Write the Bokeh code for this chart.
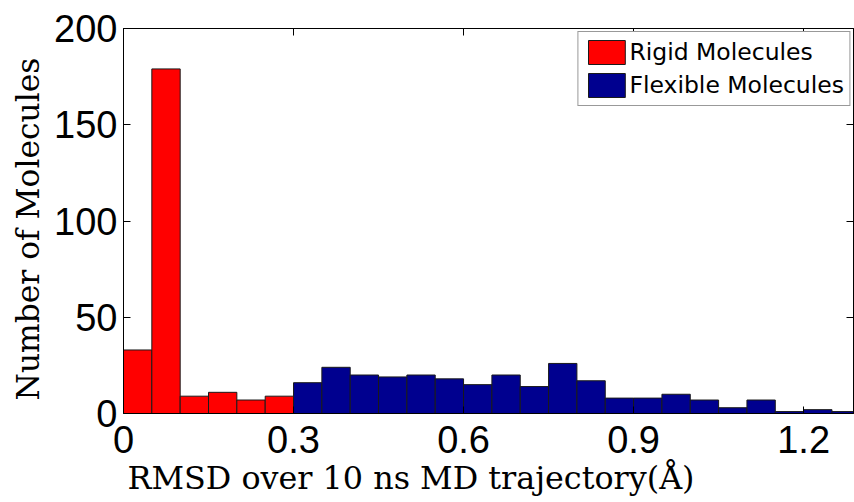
from bokeh.plotting import figure
from bokeh.models import Range1d, FixedTicker, LinearAxis, Legend, LegendItem, Title, ColumnDataSource
from bokeh.embed import file_html
from bokeh.resources import INLINE

# ---- data ----
bin_width = 0.05
rigid_bin_left = [0.00, 0.05, 0.10, 0.15, 0.20, 0.25]
rigid_counts = [33, 179, 9, 11, 7, 9]
flexible_bin_left = [0.30, 0.35, 0.40, 0.45, 0.50, 0.55, 0.60, 0.65, 0.70, 0.75,
                     0.80, 0.85, 0.90, 0.95, 1.00, 1.05, 1.10, 1.15, 1.20, 1.25]
flexible_counts = [16, 24, 20, 19, 20, 18, 15, 20, 14, 26,
                   17, 8, 8, 10, 7, 3, 7, 1, 2, 1]
x_ticks = [0, 0.3, 0.6, 0.9, 1.2]
x_tick_labels = ["0", "0.3", "0.6", "0.9", "1.2"]
y_ticks = [0, 50, 100, 150, 200]
series_names = ["Rigid Molecules", "Flexible Molecules"]
x_label = "RMSD over 10 ns MD trajectory(Å)"
y_label = "Number of Molecules"

rigid_src = ColumnDataSource(dict(
    left=rigid_bin_left,
    right=[v + bin_width for v in rigid_bin_left],
    top=rigid_counts,
    bottom=[0] * len(rigid_counts)))
flex_src = ColumnDataSource(dict(
    left=flexible_bin_left,
    right=[v + bin_width for v in flexible_bin_left],
    top=flexible_counts,
    bottom=[0] * len(flexible_counts)))

p = figure(width=854, height=502,
           x_range=Range1d(0, 1.288), y_range=Range1d(0, 200),
           output_backend="svg", toolbar_location=None,
           min_border_left=123, min_border_top=28, min_border_right=1,
           min_border_bottom=89)
p.grid.visible = False
p.outline_line_color = "black"
p.outline_line_width = 1
p.background_fill_color = "white"
p.border_fill_color = "white"

r1 = p.quad(left="left", right="right", top="top", bottom="bottom", source=rigid_src,
            fill_color="#FF0000", line_color="#1a1a1a", line_width=1)
r2 = p.quad(left="left", right="right", top="top", bottom="bottom", source=flex_src,
            fill_color="#00008F", line_color="#1a1a1a", line_width=1)

tick_font = "Liberation Sans"
for ax in (p.xaxis[0], p.yaxis[0]):
    ax.major_tick_in = 7
    ax.major_tick_out = 0
    ax.minor_tick_in = 0
    ax.minor_tick_out = 0
    ax.major_label_text_font = tick_font
    ax.major_label_text_font_size = "38px"
    ax.major_label_text_color = "black"
    ax.axis_line_color = "black"
    ax.major_tick_line_color = "black"

p.xaxis[0].ticker = FixedTicker(ticks=x_ticks)
p.xaxis[0].major_label_overrides = {t: l for t, l in zip(x_ticks, x_tick_labels)}
p.xaxis[0].major_label_standoff = 12
p.yaxis[0].ticker = FixedTicker(ticks=y_ticks)
p.yaxis[0].major_label_standoff = 6

# mirrored axes (box on): ticks only, labels not painted
top_ax = LinearAxis(ticker=FixedTicker(ticks=x_ticks), major_tick_in=7, major_tick_out=0,
                    minor_tick_in=0, minor_tick_out=0, major_label_text_font_size="1px",
                    major_label_text_color=None, major_label_standoff=0,
                    axis_line_color="black")
right_ax = LinearAxis(ticker=FixedTicker(ticks=y_ticks), major_tick_in=7, major_tick_out=0,
                      minor_tick_in=0, minor_tick_out=0, major_label_text_font_size="1px",
                      major_label_text_color=None, major_label_standoff=0,
                      axis_line_color="black")
p.add_layout(top_ax, "above")
p.add_layout(right_ax, "right")

p.add_layout(Title(text=x_label, align="left", offset=4, text_font="DejaVu Serif",
                   text_font_size="31.8px", text_font_style="normal", text_color="black",
                   standoff=3), "below")
p.add_layout(Title(text=y_label, align="left", offset=13, text_font="DejaVu Serif",
                   text_font_size="31.3px", text_font_style="normal", text_color="black",
                   standoff=12), "left")

legend = Legend(items=[LegendItem(label=series_names[0], renderers=[r1]),
                       LegendItem(label=series_names[1], renderers=[r2])],
                location="top_right", margin=3, padding=5, spacing=3,
                glyph_width=46, glyph_height=30, label_height=30, label_standoff=0,
                label_text_font="DejaVu Sans", label_text_font_size="23.5px",
                label_text_color="black",
                border_line_color="#333333", border_line_width=1,
                background_fill_color="white", background_fill_alpha=1)
p.add_layout(legend)

open("out.html", "w").write(file_html(p, INLINE))
